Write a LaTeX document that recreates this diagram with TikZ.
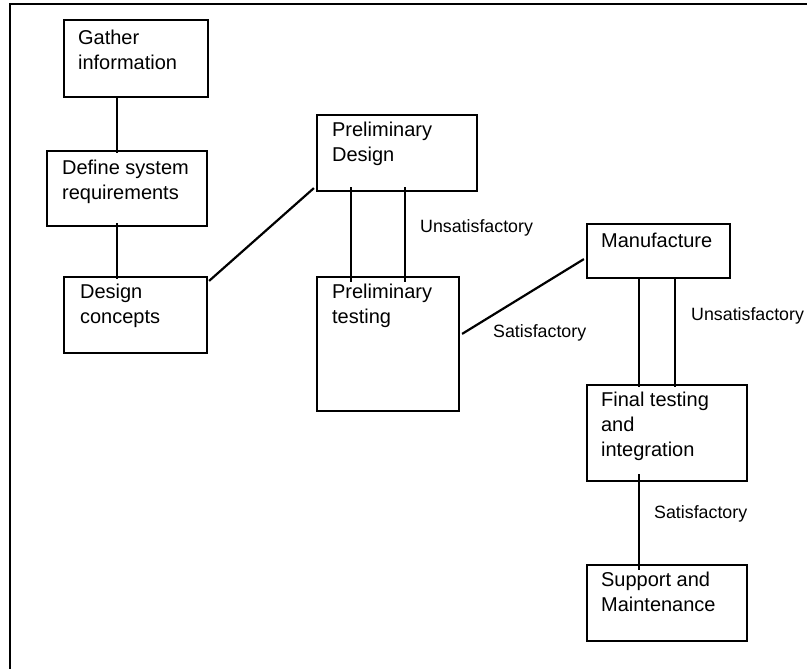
\documentclass[tikz,border=0pt]{standalone}
\usepackage{fontspec}
\setmainfont{Liberation Sans}
\usetikzlibrary{calc}

\tikzset{
  box/.style={draw, line width=2.2pt, rectangle, inner sep=0pt},
  boxtext/.style={anchor=base west, inner sep=0pt,
    font=\fontsize{20}{25}\selectfont},
  link/.style={line width=2.2pt},
  tag/.style={anchor=base west, inner sep=0pt,
    font=\fontsize{17.8}{22}\selectfont}
}
\newcommand{\lines}[1]{\parbox[t]{6cm}{\raggedright #1}}

\begin{document}
\begin{tikzpicture}[x=1pt, y=-1pt]
  \useasboundingbox (0,0) rectangle (807,669);
  \fill[white] (0,0) rectangle (807,669);

  % page frame (only top and left edges fall on the page)
  \draw[line width=2.2pt] (10,675) -- (10,4) -- (812,4);

  % process boxes
  \node[box, minimum width=144, minimum height=77] (gather)   at (136,58.5) {};
  \node[box, minimum width=160, minimum height=75] (define)   at (127,188.5) {};
  \node[box, minimum width=143, minimum height=76] (concepts) at (135.5,315) {};
  \node[box, minimum width=160, minimum height=76] (pdesign)  at (397,153) {};
  \node[box, minimum width=142, minimum height=134] (ptest)   at (388,344) {};
  \node[box, minimum width=143, minimum height=54] (manuf)    at (658.5,251) {};
  \node[box, minimum width=160, minimum height=96] (final)    at (667,433) {};
  \node[box, minimum width=160, minimum height=76] (support)  at (667,603) {};

  % box captions, set from the top-left corner of each box
  \node[boxtext] (gather-t)   at ($(gather.north west)+(15,26)$)   {\lines{Gather\\information}};
  \node[boxtext] (define-t)   at ($(define.north west)+(16,25)$)   {\lines{Define system\\requirements}};
  \node[boxtext] (concepts-t) at ($(concepts.north west)+(17,23)$) {\lines{Design\\concepts}};
  \node[boxtext] (pdesign-t)  at ($(pdesign.north west)+(16,23)$)  {\lines{Preliminary\\Design}};
  \node[boxtext] (ptest-t)    at ($(ptest.north west)+(16,23)$)    {\lines{Preliminary\\testing}};
  \node[boxtext] (manuf-t)    at ($(manuf.north west)+(15,25)$)    {\lines{Manufacture}};
  \node[boxtext] (final-t)    at ($(final.north west)+(15,23)$)    {\lines{Final testing\\and\\integration}};
  \node[boxtext] (support-t)  at ($(support.north west)+(15,23)$)  {\lines{Support and\\Maintenance}};

  % connectors
  \draw[link] ($(gather.south west)+(54,-2)$) -- ($(define.north west)+(71,3)$);
  \draw[link] ($(define.south west)+(71,-4)$) -- ($(concepts.north west)+(54,3)$);
  \draw[link] ($(concepts.north east)+(1,5)$) -- ($(pdesign.south west)+(-2,-4)$);
  \draw[link] ($(pdesign.south west)+(35,-5)$) -- ($(ptest.north west)+(35,6)$);
  \draw[link] ($(pdesign.south west)+(89,-5)$) -- ($(ptest.north west)+(89,6)$);
  \draw[link] ($(ptest.north east)+(2,58)$) -- ($(manuf.south west)+(-2,-20)$);
  \draw[link] ($(manuf.south west)+(53,-2)$) -- ($(final.north west)+(53,3)$);
  \draw[link] ($(manuf.south west)+(89,-2)$) -- ($(final.north west)+(89,3)$);
  \draw[link] ($(final.south west)+(53,-8)$) -- ($(support.north west)+(53,6)$);

  % outcome labels
  \node[tag] (unsat1) at (420,232) {Unsatisfactory};
  \node[tag] (sat1)   at (493,337) {Satisfactory};
  \node[tag] (unsat2) at (691,320) {Unsatisfactory};
  \node[tag] (sat2)   at (654,518) {Satisfactory};
\end{tikzpicture}
\end{document}
